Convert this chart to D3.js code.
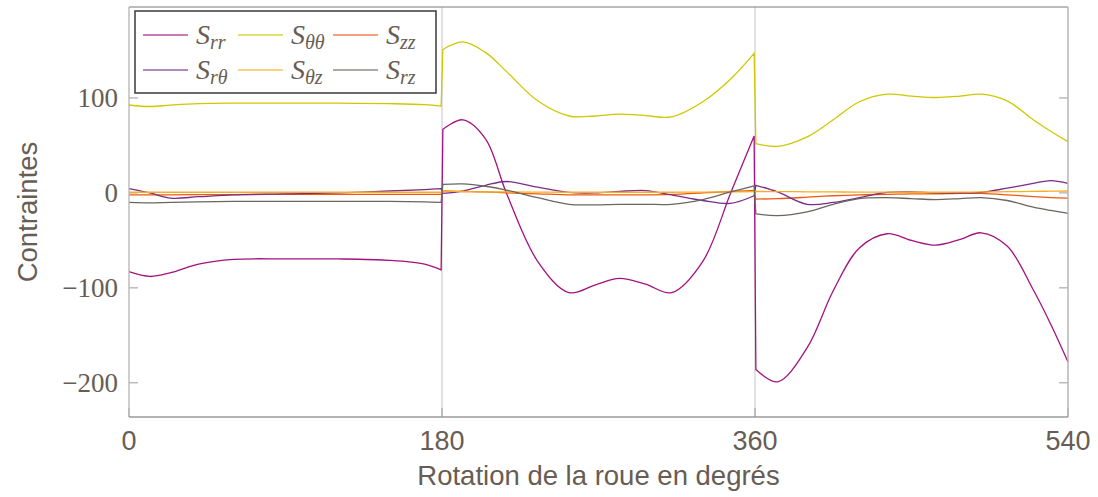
<!DOCTYPE html>
<html>
<head>
<meta charset="utf-8">
<script src="https://cdn.jsdelivr.net/npm/d3@7"></script>
<style>
  body { margin: 0; background: #fff; }
  .tickY { font-family: "Liberation Serif", "DejaVu Serif", serif; font-size: 27px; fill: #675d55; }
  .tickX { font-family: "Liberation Sans", Arial, sans-serif; font-size: 27px; fill: #675d55; }
  .axisLegend { font-family: "Liberation Sans", Arial, sans-serif; font-size: 27.5px; fill: #675d55; }
  .legendTitle { font-family: "Liberation Serif", "DejaVu Serif", serif; font-style: italic; fill: #675d55; }
</style>
</head>
<body>
<div id="chart"></div>
<script>
// rotation angle (degrees), shared by every series
var degrees = [0, 12, 24, 40, 60, 90, 120, 150, 170, 179.5, 180.5, 192, 205, 217, 235, 253, 268, 282, 297, 312, 330, 346, 359.5,
               360.5, 373, 390, 405, 420, 436, 450, 464, 478, 490, 505, 520, 530, 540];

var s_rr = [-83, -88, -84, -75, -70, -69.5, -69.5, -71, -75, -81, 67, 77, 57, 0, -72, -105, -97, -90, -96, -105, -72, 0, 60,
            -186, -199, -163, -103, -58, -43, -50, -55, -49, -42, -56, -102, -138, -178];
var s_tt = [92.6, 91, 92.5, 94, 94.5, 94.5, 94.5, 94, 93, 91.5, 151, 159, 148, 128, 97, 81, 81, 83, 81.5, 80, 96, 120, 147,
            52, 49, 59, 77, 96, 104, 102, 100.5, 102, 104, 97, 77, 65, 54];
var s_zz = [-2, -2, -2, -1.8, -1.7, -1.6, -1.6, -1.5, -1.5, -1.5, 2, 1.5, 1, 0, -1, -2, -2, -2, -2, -1.5, 0, 1.5, 2.5,
            -6.5, -6, -4.5, -3, -2, -1.5, -1, -1, -0.5, -0.5, -2, -4, -5, -5.5];
var s_rt = [4.5, 0, -5.5, -4, -2, -1, 0, 2, 3.5, 4.5, -0.5, 2, 8, 12, 6, 0.5, 0, 1.5, 2.5, -2, -8, -11, -3,
            8, 1, -12, -10, -5, 0.5, 1, 0, 0, 0.5, 5, 10, 13, 10];
var s_tz = [0.7, 0.7, 0.7, 0.7, 0.7, 0.7, 0.7, 0.7, 0.7, 0.7, 2, 1.5, 1, 1, 0.8, 0.7, 0.7, 0.7, 0.7, 0.7, 0.8, 1, 1.5,
            1.5, 1.4, 1.2, 1, 0.9, 0.8, 0.7, 0.7, 0.8, 1, 1.3, 1.6, 1.8, 2];
var s_rz = [-10, -10.5, -10, -9.5, -9, -9, -9, -9, -9.5, -10, 9, 9.5, 7, 3, -5, -12, -12.5, -12, -12, -12, -7, 1, 7.5,
            -22, -24, -20, -12, -6, -5, -6, -7, -6, -5, -8, -15, -18.5, -21.5];

var xTicks = [0, 180, 360, 540];
var yTicks = [-200, -100, 0, 100];
var jumps = [180, 360];
var legendNames = [["rr", "θθ", "zz"], ["rθ", "θz", "rz"]];
var seriesValues = [s_rr, s_tt, s_zz, s_rt, s_tz, s_rz];
var colors = ["#a3127f", "#cfc800", "#ea5a14", "#7a2b8c", "#f7ad1e", "#6b6661"];

var width = 1098, height = 497;
var margin = {top: 7, right: 30, bottom: 80, left: 129};
var c_width = 1068 - margin.left;
var c_height = 417 - margin.top;

var svg = d3.select("#chart").append("svg")
    .attr("width", width)
    .attr("height", height);
var g = svg.append("g").attr("transform", "translate(" + margin.left + "," + margin.top + ")");

var x = d3.scaleLinear().domain([0, 540]).range([0, c_width]);
var y = d3.scaleLinear().domain([-236, 195.8]).range([c_height, 0]);

/* GUIDE LINES at 180 and 360 */
g.selectAll(".vline")
    .data(jumps)
    .enter().append("line")
    .attr("x1", function(d) { return x(d); })
    .attr("x2", function(d) { return x(d); })
    .attr("y1", 0)
    .attr("y2", c_height)
    .attr("stroke", "#c4c4c4")
    .attr("stroke-width", 1);

/* TICKS (inside, both sides) */
g.selectAll(".ytickL")
    .data(yTicks)
    .enter().append("line")
    .attr("x1", 0).attr("x2", 9)
    .attr("y1", function(d) { return y(d); })
    .attr("y2", function(d) { return y(d); })
    .attr("stroke", "#9a9a9a");
g.selectAll(".ytickR")
    .data(yTicks)
    .enter().append("line")
    .attr("x1", c_width - 9).attr("x2", c_width)
    .attr("y1", function(d) { return y(d); })
    .attr("y2", function(d) { return y(d); })
    .attr("stroke", "#9a9a9a");
g.selectAll(".xtick")
    .data(xTicks)
    .enter().append("line")
    .attr("x1", function(d) { return x(d); })
    .attr("x2", function(d) { return x(d); })
    .attr("y1", c_height - 9).attr("y2", c_height)
    .attr("stroke", "#9a9a9a");

/* TICK LABELS */
g.selectAll(".tickY")
    .data(yTicks)
    .enter().append("text")
    .attr("class", "tickY")
    .attr("x", -11)
    .attr("y", function(d) { return y(d); })
    .attr("dy", "0.35em")
    .attr("text-anchor", "end")
    .text(function(d) { return d < 0 ? "\u2212" + (-d) : d; });

g.selectAll(".tickX")
    .data(xTicks)
    .enter().append("text")
    .attr("class", "tickX")
    .attr("x", function(d) { return x(d); })
    .attr("y", c_height + 33)
    .attr("text-anchor", "middle")
    .text(function(d) { return d; });

/* SERIES : smooth pieces between the jumps, joined by straight drops */
var line = d3.line()
    .x(function(d) { return x(d[0]); })
    .y(function(d) { return y(d[1]); })
    .curve(d3.curveCatmullRom.alpha(0.5));

function piecePath(pts) {
    var pieces = [[]];
    pts.forEach(function(p, j) {
        if (j > 0 && jumps.some(function(b) { return pts[j - 1][0] < b && p[0] > b; })) pieces.push([]);
        pieces[pieces.length - 1].push(p);
    });
    return pieces.map(function(pc, k) {
        var d = line(pc);
        return k > 0 ? "L" + d.slice(1) : d;
    }).join("");
}

seriesValues.forEach(function(vals, i) {
    g.append("path")
        .attr("fill", "none")
        .attr("stroke", colors[i])
        .attr("stroke-width", 1.3)
        .attr("d", piecePath(degrees.map(function(deg, j) { return [deg, vals[j]]; })));
});

/* FRAME */
g.append("line").attr("x1", 0).attr("x2", c_width).attr("y1", 0).attr("y2", 0)
    .attr("stroke", "#7a7a7a").attr("stroke-width", 1.2);
g.append("line").attr("x1", 0).attr("x2", 0).attr("y1", 0).attr("y2", c_height)
    .attr("stroke", "#b4b4b4").attr("stroke-width", 1.3);
g.append("line").attr("x1", c_width).attr("x2", c_width).attr("y1", 0).attr("y2", c_height)
    .attr("stroke", "#b4b4b4").attr("stroke-width", 1.5);
g.append("line").attr("x1", 0).attr("x2", c_width).attr("y1", c_height).attr("y2", c_height)
    .attr("stroke", "#9a9a9a").attr("stroke-width", 1.3);

/* AXIS TITLES */
svg.append("text")
    .attr("class", "axisLegend")
    .attr("x", margin.left + c_width / 2)
    .attr("y", 485)
    .attr("text-anchor", "middle")
    .text("Rotation de la roue en degrés");

svg.append("text")
    .attr("class", "axisLegend")
    .attr("transform", "translate(37," + (margin.top + c_height / 2) + ") rotate(-90)")
    .attr("text-anchor", "middle")
    .text("Contraintes");

/* LEGEND */
var legend = svg.append("g").attr("transform", "translate(135,11)");
legend.append("rect")
    .attr("width", 301)
    .attr("height", 82)
    .attr("fill", "#fff")
    .attr("stroke", "#3a3a3a")
    .attr("stroke-width", 1.5);

legendNames.forEach(function(row, r) {
    row.forEach(function(name, c) {
        var lx = 8 + c * 95, ly = 24 + r * 35;
        legend.append("line")
            .attr("x1", lx).attr("x2", lx + 45)
            .attr("y1", ly).attr("y2", ly)
            .attr("stroke", colors[r * 3 + c])
            .attr("stroke-width", 1.4)
            .attr("stroke-opacity", 0.75);
        var t = legend.append("text")
            .attr("class", "legendTitle")
            .attr("x", lx + 53)
            .attr("y", ly + 9)
            .style("font-size", "28px")
            .text("S");
        t.append("tspan")
            .attr("dy", 5)
            .style("font-size", "20px")
            .text(name);
    });
});
</script>
</body>
</html>
